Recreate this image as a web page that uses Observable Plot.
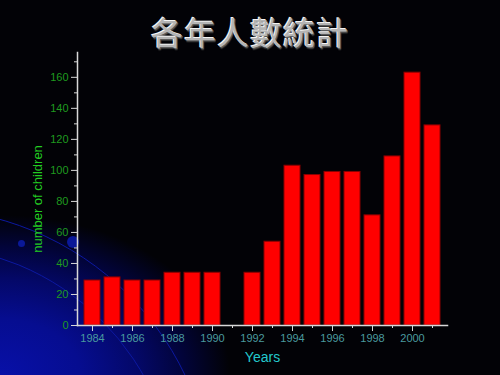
<!DOCTYPE html>
<html>
<head>
<meta charset="utf-8">
<script src="https://cdn.jsdelivr.net/npm/d3@7"></script>
<script src="https://cdn.jsdelivr.net/npm/@observablehq/plot@0.6"></script>
<style>
  html, body { margin:0; padding:0; }
  body { width:500px; height:375px; overflow:hidden; position:relative; background:#020206; }
  #bg { position:absolute; left:0; top:0; width:500px; height:375px; background:#020206; }
  #glow { position:absolute; left:0; top:0; width:500px; height:375px;
    background: radial-gradient(ellipse 230px 160px at 0px 375px, #0810a8 0%, #060d90 35%, #040868 60%, #02043a 80%, rgba(2,2,6,0) 100%); }
  .arc { position:absolute; border:1px solid #0c18a0; border-radius:50%; }
  .dot { position:absolute; border-radius:50%; background:#0a1898; }
  #title { position:absolute; left:0; top:8px; width:500px; text-align:center;
    font-family:"Noto Sans CJK TC", sans-serif; font-weight:400; font-size:32px; color:#b4b4b4;
    letter-spacing:1px;
    text-shadow: -1px -1px 0 #f4f4f4, 1px 1px 0 #5a5a5a, 1px 2px 1px #333; }
  #chart { position:absolute; left:0; top:0; }
</style>
</head>
<body>
<div id="bg"></div>
<div id="glow"></div>
<div class="arc" style="left:-372px; top:208px; width:584px; height:584px;"></div>
<div class="arc" style="left:-335px; top:245px; width:510px; height:510px;"></div>
<div class="dot" style="left:18px; top:240px; width:7px; height:7px;"></div>
<div class="dot" style="left:67px; top:236px; width:12px; height:12px;"></div>
<div id="chart"></div>
<div id="title">各年人數統計</div>
<script>
const years = [1984,1985,1986,1987,1988,1989,1990,1991,1992,1993,1994,1995,1996,1997,1998,1999,2000,2001];
const children = [29,31,29,29,34,34,34,null,34,54,103,97,99,99,71,109,163,129];
const majorYears = [1984,1986,1988,1990,1992,1994,1996,1998,2000];
const minorYears = [1985,1987,1989,1991,1993,1995,1997,1999,2001];
const yMajor = [0,20,40,60,80,100,120,140,160];
const yMinor = [10,30,50,70,90,110,130,150,170];
const title = "各年人數統計";
const xLabel = "Years";
const yLabel = "number of children";

const data = years.map((y, i) => ({year: y, count: children[i]})).filter(d => d.count != null);

const axisColor = "#d8d8d8";
const chart = Plot.plot({
  width: 500,
  height: 375,
  marginTop: 52,
  marginBottom: 50,
  marginLeft: 77,
  marginRight: 53,
  style: {background: "transparent", fontFamily: "Liberation Sans, Arial, sans-serif", fontSize: "11px"},
  x: {type: "band", domain: years, paddingInner: 0.2, paddingOuter: 0.1},
  y: {domain: [0, 176]},
  marks: [
    Plot.barY(data, {x: "year", y: "count", fill: "#ff0000", stroke: "#8c0000", strokeWidth: 1}),
    Plot.axisY({ticks: yMajor, tickSize: 6, tickPadding: 3, stroke: axisColor, fill: "#1f9a1f", label: null, fontSize: 11}),
    Plot.axisY({ticks: yMinor, tickSize: 3, tickFormat: () => "", stroke: axisColor, label: null}),
    Plot.axisX({ticks: majorYears, tickSize: 6, tickPadding: 3, tickFormat: d => String(d), stroke: axisColor, fill: "#4a9a9e", label: null, fontSize: 11}),
    Plot.axisX({ticks: minorYears, tickSize: 3, tickFormat: () => "", stroke: axisColor, label: null}),
    Plot.frame({anchor: "left", stroke: axisColor, strokeWidth: 1.5}),
    Plot.frame({anchor: "bottom", stroke: axisColor, strokeWidth: 1.5}),
    Plot.text([yLabel], {frameAnchor: "left", dx: -40, dy: 10, rotate: -90, textAnchor: "middle", fill: "#22cc22", fontSize: 13}),
    Plot.text([xLabel], {frameAnchor: "bottom", dy: 36, fill: "#22c8cc", fontSize: 14})
  ]
});
document.getElementById("chart").appendChild(chart);
document.getElementById("title").textContent = title;
</script>
</body>
</html>
